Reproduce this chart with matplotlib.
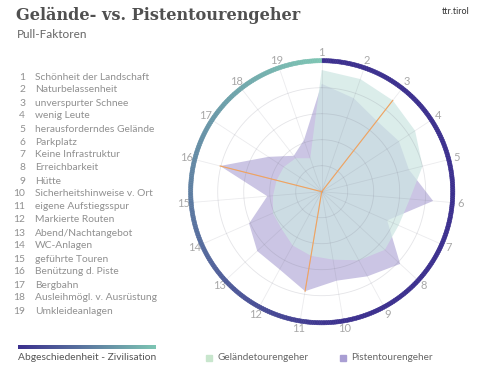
import numpy as np
import matplotlib.pyplot as plt
from matplotlib.colors import LinearSegmentedColormap
from matplotlib.patches import Rectangle, Wedge

W, H = 478, 370

factors = ["Schönheit der Landschaft", "Naturbelassenheit", "unverspurter Schnee",
           "wenig Leute", "herausforderndes Gelände", "Parkplatz", "Keine Infrastruktur",
           "Erreichbarkeit", "Hütte", "Sicherheitshinweise v. Ort", "eigene Aufstiegsspur",
           "Markierte Routen", "Abend/Nachtangebot", "WC-Anlagen", "geführte Touren",
           "Benützung d. Piste", "Bergbahn", "Ausleihmögl. v. Ausrüstung", "Umkleideanlagen"]
gelaende = [4.68, 4.58, 4.45, 4.29, 4.0, 3.4, 3.23, 3.3, 3.0, 2.65,
            2.5, 2.35, 2.1, 2.05, 1.88, 1.79, 1.74, 1.63, 1.36]
pisten = [4.15, 3.8, 3.45, 3.55, 3.46, 4.3, 2.75, 4.1, 3.7, 3.47,
          3.88, 3.4, 3.37, 3.05, 2.1, 4.03, 2.45, 1.75, 2.1]
# largest gaps, marked with orange spokes: (factor number, series)
highlight_nr = [3, 16, 11]
highlight_series = ["gelaende", "pisten", "pisten"]

indigo = "#3b2f8e"
teal = "#7dc5b3"
grad = LinearSegmentedColormap.from_list("abgesch", [indigo, teal])

plt.rcParams['font.family'] = ['Lato', 'DejaVu Sans']
fig = plt.figure(figsize=(W / 100, H / 100), dpi=100)

# radar axes, 26 px per unit, centre at (321.7, 191.7) px
cx, cy, unit, lim = 321.7, 191.7, 26.0, 5.4
half = lim * unit
ax = fig.add_axes([(cx - half) / W, 1 - (cy + half) / H, 2 * half / W, 2 * half / H])
ax.set_xlim(-lim, lim)
ax.set_ylim(-lim, lim)
ax.set_aspect('equal')
ax.axis('off')

n = len(factors)
theta = 2 * np.pi * np.arange(n) / n


def xy(r, t):
    return np.asarray(r) * np.sin(t), np.asarray(r) * np.cos(t)


px, py = xy(pisten, theta)
gx, gy = xy(gelaende, theta)
ax.fill(px, py, color="#cbc5e4", lw=0, zorder=1)
ax.fill(gx, gy, color="#cde6e3", alpha=0.72, lw=0, zorder=2)

# grid
tt = np.linspace(0, 2 * np.pi, 300)
for r in [1, 2, 3, 4]:
    ax.plot(*xy(r, tt), color="#7a7a8a", alpha=0.2, lw=0.6, zorder=3)
for t in theta:
    ax.plot(*xy([0, 5], [t, t]), color="#7a7a8a", alpha=0.15, lw=0.6, zorder=3)

# orange spokes
series = {"gelaende": gelaende, "pisten": pisten}
for nr, s in zip(highlight_nr, highlight_series):
    t = theta[nr - 1]
    ax.plot(*xy([0, series[s][nr - 1]], [t, t]), color="#f2a35e", lw=0.8, zorder=4)

# coloured outer ring (clockwise from top)
steps = 360
ring_w = 4.2 / unit
for k in range(steps):
    deg = k * 360 / steps
    c = grad(np.clip((deg - 170) / 190, 0, 1))
    a1 = 90 - (k + 1) * 360 / steps
    a2 = 90 - k * 360 / steps
    ax.add_patch(Wedge((0, 0), 5.04 + ring_w / 2, a1, a2, width=ring_w,
                       facecolor=c, edgecolor=c, lw=0.4, zorder=5))

# axis numbers
for i, t in enumerate(theta):
    lx, ly = xy(5.35, t)
    ax.text(lx, ly, str(i + 1), ha='center', va='center', fontsize=8, color="#a8a8a8")

# title block
fig.text(16 / W, 1 - 15 / H, "Gelände- vs. Pistentourengeher", fontsize=11.6,
         fontweight='bold', family='DejaVu Serif', color="#505050", va='center')
fig.text(17 / W, 1 - 35 / H, "Pull-Faktoren", fontsize=8.5, color="#666666", va='center')
fig.text(470 / W, 1 - 11 / H, "ttr.tirol", fontsize=6.5, color="#333333", va='center', ha='right')

# factor list
for i, name in enumerate(factors):
    y = 1 - (77 + 13.0 * i) / H
    fig.text(25 / W, y, str(i + 1), fontsize=7.4, color="#909090", va='center', ha='right')
    fig.text(35 / W, y, name, fontsize=7.4, color="#909090", va='center')

# gradient bar legend
bax = fig.add_axes([18 / W, 1 - 349 / H, 138 / W, 4 / H])
bax.imshow(np.linspace(0, 1, 256)[None, :], cmap=grad, aspect='auto')
bax.axis('off')
fig.text(18 / W, 1 - 358 / H, "Abgeschiedenheit - Zivilisation", fontsize=7.4, color="#555555", va='center')

# series legend
for x0, col, lab in [(206, "#c8e6cd", "Geländetourengeher"), (340, "#a99ed3", "Pistentourengeher")]:
    fig.patches.append(Rectangle((x0 / W, 1 - 361 / H), 6 / W, 6 / H, color=col,
                                 transform=fig.transFigure, figure=fig))
    fig.text((x0 + 11) / W, 1 - 358 / H, lab, fontsize=7.2, color="#666666", va='center')

fig.savefig("out.png", dpi=100)
